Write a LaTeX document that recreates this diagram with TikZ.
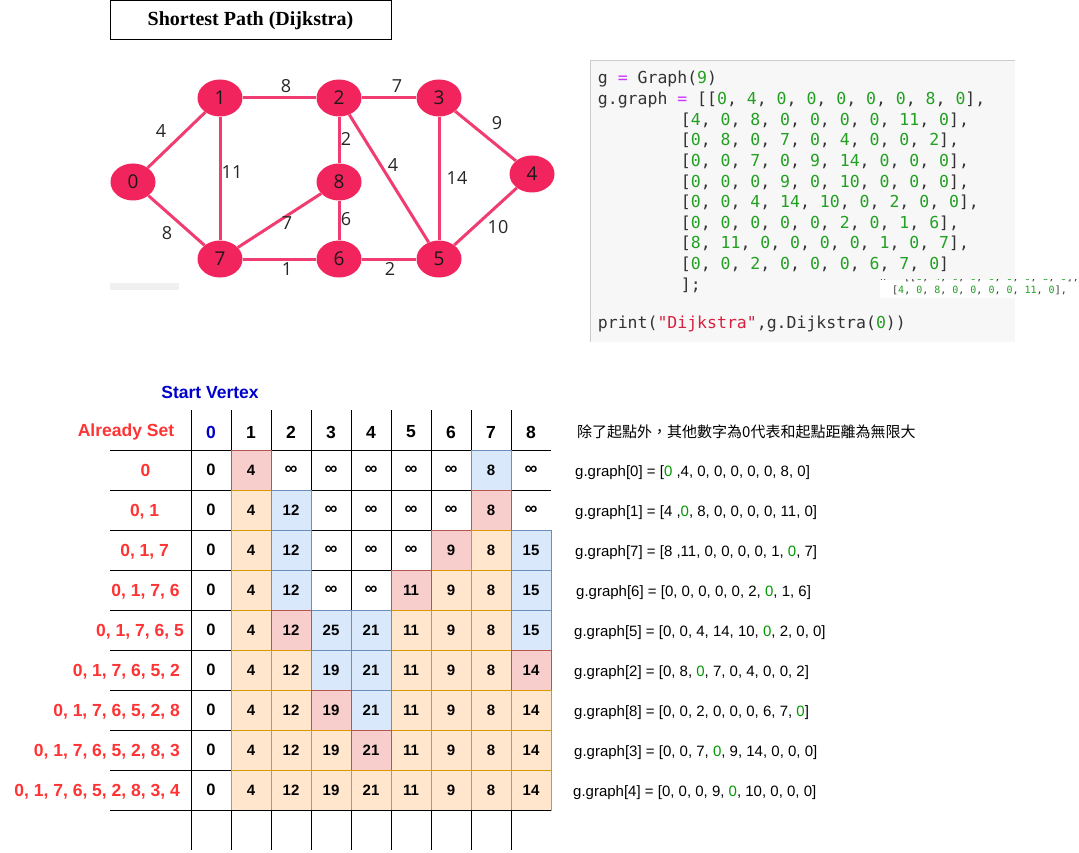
\documentclass[tikz,border=0pt]{standalone}
\usepackage{fontspec}
\setmainfont{Liberation Sans}
\setmonofont{DejaVu Sans Mono}
\newfontfamily\serifb{Liberation Serif}
\newfontfamily\graphf{Open Sans}
\newfontfamily\cjk{Noto Sans CJK TC}
\usetikzlibrary{shapes.geometric}
\definecolor{gnode}{HTML}{F2245E}
\definecolor{gedge}{HTML}{F03C70}
\definecolor{redF}{HTML}{F8CECC}\definecolor{redS}{HTML}{B85450}
\definecolor{bluF}{HTML}{DAE8FC}\definecolor{bluS}{HTML}{6C8EBF}
\definecolor{orgF}{HTML}{FFE6CC}\definecolor{orgS}{HTML}{D79B00}
\definecolor{lblred}{HTML}{FF3333}
\definecolor{startblue}{HTML}{0000CC}
\definecolor{codegreen}{HTML}{22A022}
\definecolor{codemag}{HTML}{CC33FF}
\definecolor{codered}{HTML}{D82040}
\definecolor{codetext}{HTML}{333333}
\definecolor{codebg}{HTML}{F7F7F7}
\definecolor{txtgreen}{HTML}{009900}
\newcommand\cg[1]{\textcolor{codegreen}{#1}}
\newcommand\tg[1]{\textcolor{txtgreen}{#1}}
\newcommand\eqm{\textcolor{codemag}{=}}
\newcommand\infsym{{\fontsize{18}{18}\selectfont ∞}}
\newcommand{\tabrow}[2]{\foreach \c/\v/\t in {#2}{\node[\t] (c#1-\c) at ({211+40*\c},{470+40*#1}) {\v};}}
\begin{document}
\begin{tikzpicture}[x=1pt,y=-1pt,
  gv/.style={ellipse, fill=gnode, draw=none, minimum width=45, minimum height=37, inner sep=0, font=\graphf\fontsize{19}{19}\selectfont, text=black!90},
  ge/.style={draw=gedge, line width=3},
  el/.style={font=\graphf\fontsize{18}{18}\selectfont, text=black!85, inner sep=0},
  cell/.style={minimum width=40, minimum height=40, inner sep=0, line width=1, font=\bfseries\fontsize{15}{15}\selectfont},
  wc/.style={cell},
  zc/.style={cell, font=\bfseries\fontsize{16.5}{16.5}\selectfont},
  rc/.style={cell, fill=redF, draw=redS},
  bc/.style={cell, fill=bluF, draw=bluS},
  oc/.style={cell, fill=orgF, draw=orgS},
  hdr/.style={font=\bfseries\fontsize{17.5}{17.5}\selectfont, inner sep=0},
  rowlbl/.style={font=\bfseries\fontsize{17.5}{17.5}\selectfont, text=lblred, inner sep=0},
  code/.style={anchor=base west, font=\ttfamily\fontsize{16.5}{16.5}\selectfont, text=codetext, inner sep=0},
  rtxt/.style={anchor=base west, font=\fontsize{15}{15}\selectfont, inner sep=0},
  grid/.style={draw=black, line width=1}
]
\useasboundingbox (0,0) rectangle (1079,853);
% title
\node[draw, line width=1, minimum width=281, minimum height=39, inner sep=0, font=\serifb\bfseries\fontsize{20}{20}\selectfont] (title) at (250.5,20.5) {Shortest Path (Dijkstra)};
% graph
\fill[black!6] (110,283) rectangle (179,290);
\node[gv] (n0) at (133,182) {0};
\node[gv] (n1) at (220,98) {1};
\node[gv] (n2) at (339,98) {2};
\node[gv] (n3) at (439,98) {3};
\node[gv] (n4) at (532,174) {4};
\node[gv] (n8) at (339,182) {8};
\node[gv] (n7) at (220,259) {7};
\node[gv] (n6) at (339,259) {6};
\node[gv] (n5) at (439,259) {5};
\draw[ge] (n0) -- (n1);
\draw[ge] (n1) -- (n2);
\draw[ge] (n2) -- (n3);
\draw[ge] (n3) -- (n4);
\draw[ge] (n1) -- (n7);
\draw[ge] (n2) -- (n8);
\draw[ge] (n2) -- (n5);
\draw[ge] (n3) -- (n5);
\draw[ge] (n0) -- (n7);
\draw[ge] (n7) -- (n8);
\draw[ge] (n8) -- (n6);
\draw[ge] (n4) -- (n5);
\draw[ge] (n7) -- (n6);
\draw[ge] (n6) -- (n5);
\node[el] (l01) at (161,131) {4};
\node[el] (l12) at (286,86) {8};
\node[el] (l23) at (397,86) {7};
\node[el] (l34) at (497,123) {9};
\node[el] (l17) at (232,172) {11};
\node[el] (l28) at (346,139) {2};
\node[el] (l25) at (393,165) {4};
\node[el] (l35) at (457,178) {14};
\node[el] (l07) at (167,233) {8};
\node[el] (l78) at (287,223) {7};
\node[el] (l86) at (346,219) {6};
\node[el] (l45) at (498,227) {10};
\node[el] (l76) at (287,269) {1};
\node[el] (l65) at (390,269) {2};
% code block
\fill[codebg] (590,61) rectangle (1015,342);
\draw[black!20, line width=1] (1015,61) -- (590,61) -- (590,342);
\node[code] (k0) at (597.7,84) {g \eqm{} Graph(\cg{9})};
\node[code] (k1) at (597.7,104.8) {g.graph \eqm{} [[\cg{0}, \cg{4}, \cg{0}, \cg{0}, \cg{0}, \cg{0}, \cg{0}, \cg{8}, \cg{0}],};
\node[code] (k2) at (680.7,125.4) {[\cg{4}, \cg{0}, \cg{8}, \cg{0}, \cg{0}, \cg{0}, \cg{0}, \cg{11}, \cg{0}],};
\node[code] (k3) at (680.7,146) {[\cg{0}, \cg{8}, \cg{0}, \cg{7}, \cg{0}, \cg{4}, \cg{0}, \cg{0}, \cg{2}],};
\node[code] (k4) at (680.7,166.6) {[\cg{0}, \cg{0}, \cg{7}, \cg{0}, \cg{9}, \cg{14}, \cg{0}, \cg{0}, \cg{0}],};
\node[code] (k5) at (680.7,187.2) {[\cg{0}, \cg{0}, \cg{0}, \cg{9}, \cg{0}, \cg{10}, \cg{0}, \cg{0}, \cg{0}],};
\node[code] (k6) at (680.7,207.8) {[\cg{0}, \cg{0}, \cg{4}, \cg{14}, \cg{10}, \cg{0}, \cg{2}, \cg{0}, \cg{0}],};
\node[code] (k7) at (680.7,228.4) {[\cg{0}, \cg{0}, \cg{0}, \cg{0}, \cg{0}, \cg{2}, \cg{0}, \cg{1}, \cg{6}],};
\node[code] (k8) at (680.7,249) {[\cg{8}, \cg{11}, \cg{0}, \cg{0}, \cg{0}, \cg{0}, \cg{1}, \cg{0}, \cg{7}],};
\node[code] (k9) at (680.7,269.6) {[\cg{0}, \cg{0}, \cg{2}, \cg{0}, \cg{0}, \cg{0}, \cg{6}, \cg{7}, \cg{0}]};
\node[code] (k10) at (680.7,290.2) {];};
\node[code] (k11) at (597.7,328.5) {print(\textcolor{codered}{"Dijkstra"},g.Dijkstra(\cg{0}))};
% pasted snippet
\fill[white] (880,280) rectangle (1079,298);
\begin{scope}
\clip (880,279.5) rectangle (1079,283);
\node[code, font=\ttfamily\fontsize{10}{10}\selectfont] (s0) at (843.8,280.3) {g.graph \eqm{} [[\cg{0}, \cg{4}, \cg{0}, \cg{0}, \cg{0}, \cg{0}, \cg{0}, \cg{8}, \cg{0}],};
\end{scope}
\node[code, font=\ttfamily\fontsize{10}{10}\selectfont] (s1) at (892,293.5) {[\cg{4}, \cg{0}, \cg{8}, \cg{0}, \cg{0}, \cg{0}, \cg{0}, \cg{11}, \cg{0}],};
% table header
\node[font=\bfseries\fontsize{17.5}{17.5}\selectfont, text=startblue, inner sep=0] (sv) at (210,392) {Start Vertex};
\node[hdr, text=lblred] (as) at (126,432) {Already Set};
\node[hdr, text=startblue] (h0) at (211,432) {0};
\foreach \j in {1,...,8}{\node[hdr] (h\j) at ({211+40*\j},432) {\j};}
% grid
\foreach \k in {0,...,9}{\draw[grid] (110,{450+40*\k}) -- (551,{450+40*\k});}
\foreach \j in {0,...,8}{\draw[grid] ({191+40*\j},410) -- ({191+40*\j},850);}
% rows
\tabrow{0}{0/0/zc,1/4/rc,2/\infsym/wc,3/\infsym/wc,4/\infsym/wc,5/\infsym/wc,6/\infsym/wc,7/8/bc,8/\infsym/wc}
\tabrow{1}{0/0/zc,1/4/oc,2/12/bc,3/\infsym/wc,4/\infsym/wc,5/\infsym/wc,6/\infsym/wc,7/8/rc,8/\infsym/wc}
\tabrow{2}{0/0/zc,1/4/oc,2/12/bc,3/\infsym/wc,4/\infsym/wc,5/\infsym/wc,6/9/rc,7/8/oc,8/15/bc}
\tabrow{3}{0/0/zc,1/4/oc,2/12/bc,3/\infsym/wc,4/\infsym/wc,6/9/oc,7/8/oc,8/15/bc,5/11/rc}
\tabrow{4}{0/0/zc,1/4/oc,5/11/oc,6/9/oc,7/8/oc,3/25/bc,4/21/bc,8/15/bc,2/12/rc}
\tabrow{5}{0/0/zc,1/4/oc,2/12/oc,5/11/oc,6/9/oc,7/8/oc,3/19/bc,4/21/bc,8/14/rc}
\tabrow{6}{0/0/zc,1/4/oc,2/12/oc,5/11/oc,6/9/oc,7/8/oc,8/14/oc,4/21/bc,3/19/rc}
\tabrow{7}{0/0/zc,1/4/oc,2/12/oc,3/19/oc,5/11/oc,6/9/oc,7/8/oc,8/14/oc,4/21/rc}
\tabrow{8}{0/0/zc,1/4/oc,2/12/oc,3/19/oc,4/21/oc,5/11/oc,6/9/oc,7/8/oc,8/14/oc}
\draw[grid] (110,810) -- (551,810);
% row labels
\node[rowlbl, anchor=base] (r0) at (145.5,476.3) {0};
\node[rowlbl, anchor=base] (r1) at (144.6,516.3) {0, 1};
\node[rowlbl, anchor=base] (r2) at (144.6,556.3) {0, 1, 7};
\node[rowlbl, anchor=base] (r3) at (145.5,596.3) {0, 1, 7, 6};
\node[rowlbl, anchor=base east] (r4) at (184,636.3) {0, 1, 7, 6, 5};
\node[rowlbl, anchor=base east] (r5) at (180,676.3) {0, 1, 7, 6, 5, 2};
\node[rowlbl, anchor=base east] (r6) at (180,716.3) {0, 1, 7, 6, 5, 2, 8};
\node[rowlbl, anchor=base east] (r7) at (180,756.3) {0, 1, 7, 6, 5, 2, 8, 3};
\node[rowlbl, anchor=base east] (r8) at (180,796.3) {0, 1, 7, 6, 5, 2, 8, 3, 4};
% right text
\node[rtxt, font=\cjk\fontsize{15}{15}\selectfont] (note) at (577,437.5) {除了起點外，其他數字為0代表和起點距離為無限大};
\node[rtxt] (t0) at (575,476) {g.graph[0] = [\tg{0} ,4, 0, 0, 0, 0, 0, 8, 0]};
\node[rtxt] (t1) at (575,516) {g.graph[1] = [4 ,\tg{0}, 8, 0, 0, 0, 0, 11, 0]};
\node[rtxt] (t2) at (575,556) {g.graph[7] = [8 ,11, 0, 0, 0, 0, 1, \tg{0}, 7]};
\node[rtxt] (t3) at (576,596) {g.graph[6] = [0, 0, 0, 0, 0, 2, \tg{0}, 1, 6]};
\node[rtxt] (t4) at (574,636) {g.graph[5] = [0, 0, 4, 14, 10, \tg{0}, 2, 0, 0]};
\node[rtxt] (t5) at (574,676) {g.graph[2] = [0, 8, \tg{0}, 7, 0, 4, 0, 0, 2]};
\node[rtxt] (t6) at (574,716) {g.graph[8] = [0, 0, 2, 0, 0, 0, 6, 7, \tg{0}]};
\node[rtxt] (t7) at (574,756) {g.graph[3] = [0, 0, 7, \tg{0}, 9, 14, 0, 0, 0]};
\node[rtxt] (t8) at (573,796) {g.graph[4] = [0, 0, 0, 9, \tg{0}, 10, 0, 0, 0]};
\end{tikzpicture}
\end{document}
